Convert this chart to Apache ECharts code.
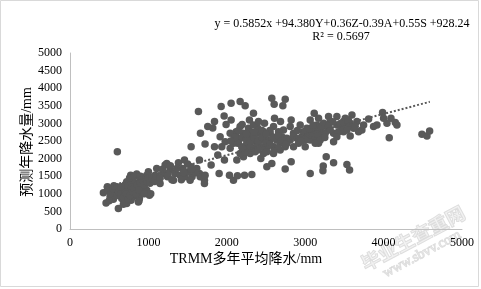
<!DOCTYPE html>
<html><head><meta charset="utf-8">
<script src="https://cdn.jsdelivr.net/npm/echarts@6/dist/echarts.min.js"></script>
<style>html,body{margin:0;padding:0;background:#fff}#c{width:481px;height:289px}</style>
</head><body><div id="c"></div>
<script>
const xTicks = [0, 1000, 2000, 3000, 4000, 5000];
const yTicks = [0, 500, 1000, 1500, 2000, 2500, 3000, 3500, 4000, 4500, 5000];
const trmmX = [604,1638,1928,2055,2170,2234,2574,2604,2745,2715,1966,2340,3987,4072,4489,4553,4587,3809,3915,4149,4094,3268,3362,3230,3226,3532,3566,3064,2745,2821,2511,2574,2434,2319,2226,2034,2085,2136,2128,1902,1715,1715,1651,1557,1545,1460,1383,1319,1213,1149,1000,1013,979,872,723,617,460,426,477,596,774,851,1545,1664,1757,1843,1723,1843,1936,1885,1970,1800,1651,1821,1991,2055,2119,2196,2289,2396,2481,2609,2685,2821,2936,3064,3115,3170,3298,3404,3511,3596,3660,3681,3574,3723,3553,3404,3277,3213,3170,3000,3064,2957,2851,2766,2681,2596,2511,2553,2426,2340,2298,2213,2255,2170,2085,2043,1915,2553,2723,2851,3106,3362,3489,3617,3362,3872,4043,4170,4000,2809,3149,3021,511,574,660,702,745,800,830,851,894,915,936,779,809,723,936,1043,1085,979,860,638,553,681,787,885,1106,1183,1243,1277,1340,1404,1438,1468,1511,1532,1617,1660,1723,1234,1362,2255,2319,2383,2447,2489,2383,2447,2362,2277,2191,2140,2111,2209,2170,2277,2340,2404,2468,2596,2660,2638,2702,2766,2745,2596,2511,2468,2681,2809,2894,2915,2340,2298,2043,2085,2234,2170,1979,2979,3043,3128,3191,3255,3319,3426,3468,3532,3489,3319,3234,3128,3085,3191,3128,3000,3404,3574,3638,3745,
  480,520,550,600,620,650,680,700,720,740,760,780,800,820,840,860,880,900,920,950,980,1000,1020,1050,1080,760,820,900,700,650,560,500,880,950,1030,1100,1150,
  1250,1300,1450,1500,1600,1550,1180,1420,1280,
  2150,2200,2250,2300,2350,2400,2450,2500,2550,2600,2650,2700,2200,2250,2350,2450,2550,2650,2400,2150,2100,2050,2300,2500,2600,2750,2850,2900,2950,3050,3100,3200,3300,3350,3450,3550,3250,3150];
const predY = [2196,3337,3479,3574,3622,3498,3717,3546,3688,3498,3213,3289,3308,2595,2690,2643,2785,3127,2956,3023,3146,2053,1882,1787,1654,1835,1673,1578,1702,1911,1768,1863,2006,1549,1530,1530,1388,1511,1958,1578,1388,1293,1578,1483,1768,1958,1882,1388,1816,1293,1625,960,1103,770,722,580,741,1027,1198,1198,1530,1559,2338,2719,2909,3051,2414,2338,2338,2101,1958,1816,1958,2871,2966,3099,2766,2966,3099,2861,3004,3146,3051,3099,2956,3099,3289,3146,3194,3194,3146,3241,3051,2766,2643,2814,2956,2956,2909,2624,2433,2338,2528,2624,2338,2433,2243,2148,2338,2528,2528,2291,2148,2053,2433,2576,2528,2291,2624,2719,2814,2719,2766,2719,2766,2861,2481,2909,3004,2956,3146,2909,2956,2861,913,1055,865,1008,1150,913,1103,1293,1435,1198,1008,818,1312,1340,1388,1388,1530,1530,960,1150,846,703,1055,865,1720,1578,1483,1673,1578,1530,1720,1483,1625,1388,1720,1483,1530,1863,1720,2719,2624,2719,2671,2528,2433,2338,2196,2291,2338,2433,2671,2719,2909,2861,2956,3051,2766,2909,2766,2528,2624,2576,2338,2338,2196,2148,2433,2528,2576,2433,2528,2766,2719,2433,2196,2148,2481,2766,2671,2624,2766,2719,2814,2766,2909,2814,3051,3051,3004,2909,2719,2528,2433,2528,2624,3004,2909,2956,
  1100,1000,1150,950,1050,1000,900,1100,1000,850,950,1200,1050,1150,1000,1250,1100,1300,1400,1250,1350,1450,1300,1400,1350,1450,1500,1500,1250,1200,1230,800,800,1000,1000,1500,1450,
  1550,1400,1600,1850,1600,1700,1700,1400,1800,
  2500,2600,2550,2450,2600,2500,2600,2450,2400,2600,2650,2500,2300,2700,2750,2800,2800,2300,2250,2800,2600,2500,2300,2700,2200,2400,2650,2800,2500,2850,2950,2850,2950,3050,3000,3100,2600,2700];
const trendX = [430, 4590];
const trendY = [1180, 3614];
const equation = 'y = 0.5852x +94.380Y+0.36Z-0.39A+0.55S +928.24';
const r2 = 'R² = 0.5697';
const xTitle = 'TRMM多年平均降水/mm';
const yTitle = '预测年降水量/mm';

const serif = '"Liberation Serif","Times New Roman","Noto Sans CJK SC",serif';
const chart = echarts.init(document.getElementById('c'), null, {renderer: 'canvas'});
chart.setOption({
  animation: false,
  backgroundColor: '#fff',
  grid: {left: 70, right: 19, top: 53, bottom: 60, containLabel: false},
  xAxis: {
    type: 'value', min: xTicks[0], max: xTicks[xTicks.length-1], interval: 1000,
    axisLine: {show: true, lineStyle: {color: '#bfbfbf', width: 1}},
    axisTick: {show: false}, splitLine: {show: false},
    axisLabel: {color: '#000', fontFamily: serif, fontSize: 12, margin: 8, formatter: v => String(v)}
  },
  yAxis: {
    type: 'value', min: yTicks[0], max: yTicks[yTicks.length-1], interval: 500,
    axisLine: {show: true, lineStyle: {color: '#bfbfbf', width: 1}},
    axisTick: {show: false}, splitLine: {show: false},
    axisLabel: {color: '#000', fontFamily: serif, fontSize: 12, margin: 8, formatter: v => String(v)}
  },
  series: [
    {
      type: 'scatter', symbol: 'circle', symbolSize: 7.5,
      itemStyle: {color: '#595959', opacity: 1},
      data: trmmX.map((x, i) => [x, predY[i]]), z: 2
    },
    {
      type: 'line', symbol: 'none', z: 3,
      lineStyle: {color: '#595959', width: 2, type: [2, 2]},
      data: trendX.map((x, i) => [x, trendY[i]])
    }
  ],
  graphic: [
    {type: 'rect', shape: {x: 0.5, y: 0.5, width: 478, height: 286}, style: {fill: null, stroke: '#d9d9d9', lineWidth: 1}, silent: true},
    {type: 'text', x: 342, y: 24, style: {text: equation, font: '12px ' + serif, fill: '#000', textAlign: 'center', textVerticalAlign: 'middle'}},
    {type: 'text', x: 341, y: 37, style: {text: r2, font: '12px ' + serif, fill: '#000', textAlign: 'center', textVerticalAlign: 'middle'}},
    {type: 'text', x: 246, y: 259, style: {text: xTitle, font: '14px ' + serif, fill: '#000', textAlign: 'center', textVerticalAlign: 'middle'}},
    {type: 'text', x: 27, y: 142, rotation: Math.PI/2, style: {text: yTitle, font: '14px ' + serif, fill: '#000', textAlign: 'center', textVerticalAlign: 'middle'}},
    {type: 'text', x: 413, y: 238, rotation: 28*Math.PI/180, style: {text: '毕业生查重网', font: 'bold 19px "Noto Sans CJK SC",sans-serif', fill: 'rgba(230,230,230,0.5)', stroke: 'rgba(205,205,205,0.7)', lineWidth: 1, textAlign: 'center', textVerticalAlign: 'middle'}, silent: true},
    {type: 'text', x: 422, y: 254, rotation: 28*Math.PI/180, style: {text: 'www.sbvv.com', font: '14px ' + serif, fill: 'rgba(230,230,230,0.5)', stroke: 'rgba(205,205,205,0.7)', lineWidth: 1, textAlign: 'center', textVerticalAlign: 'middle'}, silent: true}
  ]
});
</script>
</body></html>
